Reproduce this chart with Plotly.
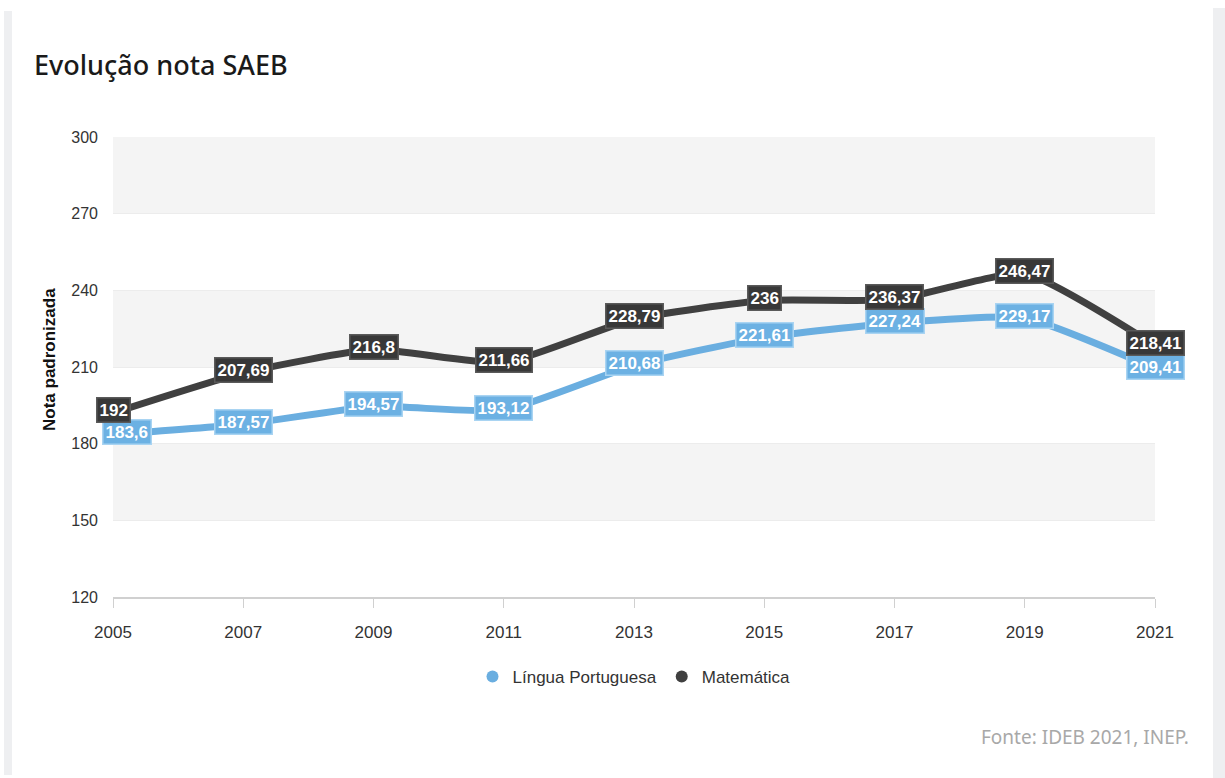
import plotly.graph_objects as go

years = [2005, 2007, 2009, 2011, 2013, 2015, 2017, 2019, 2021]
portugues = [183.6, 187.57, 194.57, 193.12, 210.68, 221.61, 227.24, 229.17, 209.41]
matematica = [192, 207.69, 216.8, 211.66, 228.79, 236, 236.37, 246.47, 218.41]
port_labels = ["183,6", "187,57", "194,57", "193,12", "210,68", "221,61", "227,24", "229,17", "209,41"]
mat_labels = ["192", "207,69", "216,8", "211,66", "228,79", "236", "236,37", "246,47", "218,41"]
y_ticks = [120, 150, 180, 210, 240, 270, 300]
bands = [(270, 300), (210, 240), (150, 180)]

C_PORT = "#6aaee0"
C_MAT = "#404040"
NARROW = "Liberation Sans Narrow, Arial Narrow, Liberation Sans, Arial, sans-serif"

fig = go.Figure()

fig.add_trace(go.Scatter(x=years, y=portugues, mode="lines", name="Língua Portuguesa",
                         line=dict(color=C_PORT, width=7, shape="spline", smoothing=0.5),
                         showlegend=False, hoverinfo="skip"))
fig.add_trace(go.Scatter(x=years, y=matematica, mode="lines", name="Matemática",
                         line=dict(color=C_MAT, width=7, shape="spline", smoothing=0.5),
                         showlegend=False, hoverinfo="skip"))
# legend entries (circle markers)
fig.add_trace(go.Scatter(x=[None], y=[None], mode="markers", name="Língua Portuguesa",
                         marker=dict(color=C_PORT, size=17)))
fig.add_trace(go.Scatter(x=[None], y=[None], mode="markers", name="Matemática",
                         marker=dict(color=C_MAT, size=17)))

for i, (x, y, t) in enumerate(zip(years, portugues, port_labels)):
    fig.add_annotation(x=x, y=y, text=t, showarrow=False, yshift=2,
                       xshift=14 if i == 0 else 0,
                       font=dict(family=NARROW, size=17, color="white", weight="bold"),
                       bgcolor="#6cb1e3", bordercolor="#a9d4f2", borderwidth=1.5, borderpad=2)
for x, y, t in zip(years, matematica, mat_labels):
    fig.add_annotation(x=x, y=y, text=t, showarrow=False, yshift=3,
                       font=dict(family=NARROW, size=17, color="white", weight="bold"),
                       bgcolor="#383838", bordercolor="#5a5a5a", borderwidth=1.5, borderpad=2)

for y0, y1 in bands:
    fig.add_shape(type="rect", xref="paper", yref="y", x0=0, x1=1, y0=y0, y1=y1,
                  fillcolor="#f4f4f4", line=dict(width=0), layer="below")

# outer gray frame of the card
fig.add_shape(type="rect", xref="paper", yref="paper",
              x0=(4 - 113) / 1042, x1=(12 - 113) / 1042,
              y0=(597 - 775) / 460, y1=(597 - 11) / 460,
              fillcolor="#eeeff1", line=dict(width=0), layer="below")
fig.add_shape(type="rect", xref="paper", yref="paper",
              x0=(1213 - 113) / 1042, x1=(1225 - 113) / 1042,
              y0=(597 - 778) / 460, y1=(597 - 8) / 460,
              fillcolor="#eeeff1", line=dict(width=0), layer="below")

fig.add_annotation(xref="paper", yref="paper", x=(49 - 113) / 1042, y=(597 - 360) / 460,
                   xanchor="center", yanchor="middle",
                   text="<b>Nota padronizada</b>", textangle=-90, showarrow=False,
                   font=dict(family="Liberation Sans, Arial, sans-serif", size=17, color="#111"))
fig.add_annotation(xref="paper", yref="paper", x=(1191 - 113) / 1042, y=(597 - 737) / 460,
                   xanchor="right", yanchor="middle", text="Fonte: IDEB 2021, INEP.",
                   showarrow=False, font=dict(family="Noto Sans, sans-serif", size=19, color="#a8a8a8"))

fig.update_layout(
    width=1225, height=778,
    margin=dict(l=113, r=70, t=137, b=181),
    paper_bgcolor="white", plot_bgcolor="white",
    title=dict(text="Evolução nota SAEB", x=34 / 1225, xanchor="left", xref="container",
               y=1 - 66 / 778, yanchor="middle", yref="container",
               font=dict(family="Noto Sans, sans-serif", size=27, color="#1a1a1a", weight=500)),
    legend=dict(orientation="h", x=0.5, xanchor="center", y=-(659 - 597) / 460, yanchor="top",
                font=dict(family=NARROW, size=17, color="#333"), itemsizing="constant",
                itemwidth=30, traceorder="normal"),
    showlegend=True,
    xaxis=dict(range=[2005, 2021], tickvals=years, ticktext=[str(y) for y in years],
               showgrid=False, zeroline=False, showline=True, linecolor="#d0d0d0", linewidth=1.5,
               ticks="outside", ticklen=9, tickcolor="#d0d0d0", ticklabelstandoff=10,
               tickfont=dict(family=NARROW, size=17, color="#333")),
    yaxis=dict(range=[120, 300], tickvals=y_ticks, showgrid=True, gridcolor="#ececec",
               zeroline=False, showline=False, ticks="", ticklabelstandoff=14,
               tickfont=dict(family=NARROW, size=16, color="#333")),
)

fig.write_html("out.html")
